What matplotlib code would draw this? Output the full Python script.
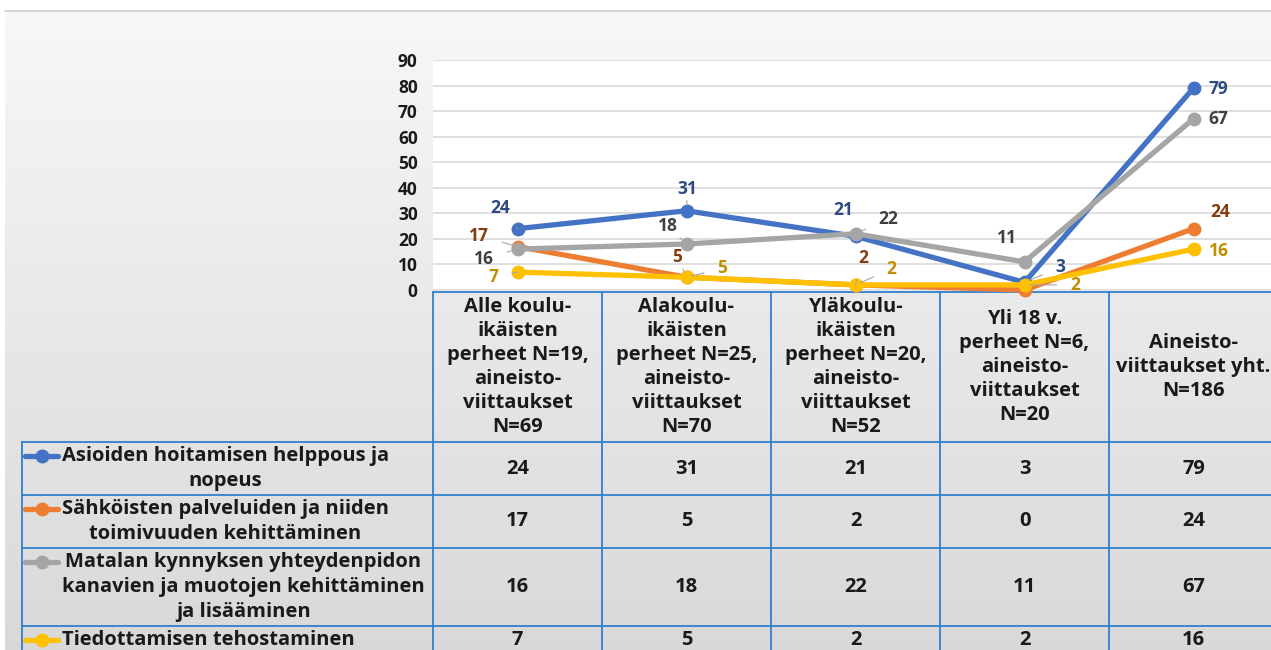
import matplotlib.pyplot as plt
import numpy as np

# data
categories = [
    "Alle koulu-\nikäisten\nperheet N=19,\naineisto-\nviittaukset\nN=69",
    "Alakoulu-\nikäisten\nperheet N=25,\naineisto-\nviittaukset\nN=70",
    "Yläkoulu-\nikäisten\nperheet N=20,\naineisto-\nviittaukset\nN=52",
    "Yli 18 v.\nperheet N=6,\naineisto-\nviittaukset\nN=20",
    "Aineisto-\nviittaukset yht.\nN=186",
]
series_names = [
    "Asioiden hoitamisen helppous ja\nnopeus",
    "Sähköisten palveluiden ja niiden\ntoimivuuden kehittäminen",
    "Matalan kynnyksen yhteydenpidon\nkanavien ja muotojen kehittäminen\nja lisääminen",
    "Tiedottamisen tehostaminen",
]
asioiden = [24, 31, 21, 3, 79]
sahkoisten = [17, 5, 2, 0, 24]
matalan = [16, 18, 22, 11, 67]
tiedottamisen = [7, 5, 2, 2, 16]
yticks = [0, 10, 20, 30, 40, 50, 60, 70, 80, 90]

series = [asioiden, sahkoisten, matalan, tiedottamisen]
line_colors = ["#4472c4", "#ed7d31", "#a5a5a5", "#ffc000"]
label_colors = ["#2f4a80", "#843c0c", "#404040", "#bf9000"]

# label offsets in pixels (dx, dy down), None = no label
label_offsets = [
    [(-17, -21), (1, -22), (-12, -26), (36, -15), (25, 1)],
    [(-39, -11), (-9, -20), (8, -27), None, (27, -17)],
    [(-34, 10), (-19, -18), (33, -15), (-18, -24), (25, 0)],
    [(-24, 5), (36, -9), (36, -16), (51, 0), (25, 2)],
]

W, H = 1271, 650
FONT = "Open Sans"
plt.rcParams["font.family"] = [FONT, "DejaVu Sans"]
plt.rcParams["font.weight"] = "bold"

fig = plt.figure(figsize=(W / 100, H / 100), dpi=100)
fig.patch.set_facecolor("white")

# background axes in pixel coordinates
bg = fig.add_axes([0, 0, 1, 1], zorder=0)
bg.set_xlim(0, W)
bg.set_ylim(H, 0)
bg.axis("off")
grad = np.linspace(0, 1, 256).reshape(-1, 1)
c_top = np.array([0.97, 0.97, 0.97])
c_bot = np.array([0.85, 0.85, 0.85])
img = c_top + grad[:, :, None] * (c_bot - c_top)
bg.imshow(img, extent=[5, W, H, 11], aspect="auto", zorder=0)
bg.plot([5, W], [10.5, 10.5], color="#cfcfcf", lw=1.2, zorder=1)

# line chart
x0, col_w = 433, 169
ax = fig.add_axes([x0 / W, (H - 290) / H, (W - x0) / W, 230 / H], zorder=2)
ax.set_facecolor("white")
xs = np.arange(len(categories))
ax.set_xlim(-0.5, (W - x0) / col_w - 0.5)
ax.set_ylim(0, 90)
for s in ax.spines.values():
    s.set_visible(False)
ax.set_xticks([])
ax.set_yticks(yticks)
ax.set_yticklabels([str(t) for t in yticks], fontsize=12.5, fontweight="bold", color="#1a1a1a")
ax.tick_params(axis="y", length=0, pad=11)
ax.grid(axis="y", color="#d9d9d9", lw=1.2)
ax.set_axisbelow(True)

for vals, lc, tc, offs in zip(series, line_colors, label_colors, label_offsets):
    ax.plot(xs, vals, color=lc, lw=3.8, marker="o", ms=9, clip_on=False, solid_capstyle="round")
    for x, v, off in zip(xs, vals, offs):
        if off is None:
            continue
        dx, dy = off
        dist = np.hypot(dx, dy)
        arrow = None
        if (dist > 20 and abs(dy) > 4) or dist > 30:
            arrow = dict(arrowstyle="-", color="#a6a6a6", lw=0.8, shrinkA=8, shrinkB=4)
        ax.annotate(str(v), xy=(x, v), xytext=(dx * 0.72, -dy * 0.72), textcoords="offset points",
                    ha="center", va="center", fontsize=12.5, fontweight="bold", color=tc,
                    arrowprops=arrow, annotation_clip=False, zorder=5)

# data table
tbl_color = "#2f80d0"
rows_y = [292, 442, 495, 548, 626]
col_x = [x0 + col_w * i for i in range(len(categories))]
left = 22
bg.plot([x0, W], [292, 292], color=tbl_color, lw=1.3, zorder=3)
for y in rows_y[1:]:
    bg.plot([left, W], [y, y], color=tbl_color, lw=1.3, zorder=3)
bg.plot([left, left], [442, H], color=tbl_color, lw=1.3, zorder=3)
for cx in col_x:
    bg.plot([cx, cx], [292, H], color=tbl_color, lw=1.3, zorder=3)

txt_kw = dict(fontsize=14.5, fontweight="bold", color="#1a1a1a", zorder=4)
for i, cat in enumerate(categories):
    bg.text(col_x[i] + col_w / 2, 367, cat, ha="center", va="center", multialignment="center",
            linespacing=1.27, **txt_kw)

row_centers = [468.5, 521.5, 587, 640]
line_h = 25
for r, (name, vals, lc) in enumerate(zip(series_names, series, line_colors)):
    yc = row_centers[r]
    nlines = name.count("\n") + 1
    y_first = yc - (nlines - 1) * line_h / 2
    bg.plot([25, 58], [y_first, y_first], color=lc, lw=3.8, zorder=4, solid_capstyle="round")
    bg.plot([41.5], [y_first], "o", color=lc, ms=9, zorder=4)
    bg.text(62, yc, name, ha="left", va="center", multialignment="center", linespacing=1.32, **txt_kw)
    for i, v in enumerate(vals):
        bg.text(col_x[i] + col_w / 2, yc, str(v), ha="center", va="center", **txt_kw)

fig.savefig("out.png", dpi=100)
